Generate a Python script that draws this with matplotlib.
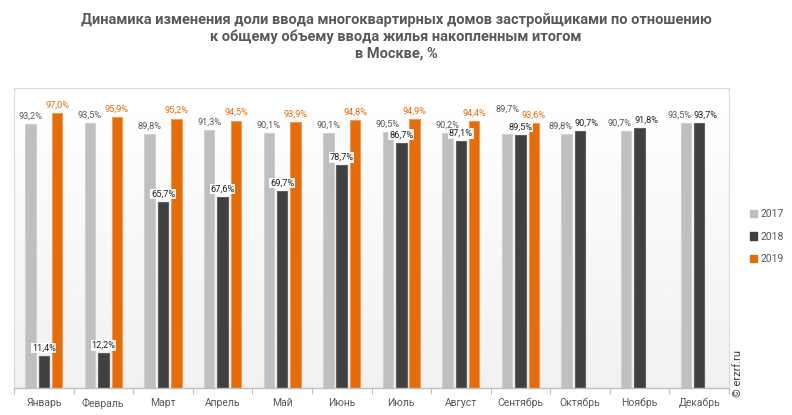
import numpy as np
import matplotlib.pyplot as plt
from matplotlib.patches import Patch

months = ['Январь', 'Февраль', 'Март', 'Апрель', 'Май', 'Июнь', 'Июль',
          'Август', 'Сентябрь', 'Октябрь', 'Ноябрь', 'Декабрь']
v2017 = [93.2, 93.5, 89.8, 91.3, 90.1, 90.1, 90.5, 90.2, 89.7, 89.8, 90.7, 93.5]
v2018 = [11.4, 12.2, 65.7, 67.6, 69.7, 78.7, 86.7, 87.1, 89.5, 90.7, 91.8, 93.7]
v2019 = [97.0, 95.9, 95.2, 94.5, 93.9, 94.8, 94.9, 94.4, 93.6]

plt.rcParams['font.family'] = ['Roboto', 'DejaVu Sans']

fig = plt.figure(figsize=(7.92, 4.15), dpi=100)
ax = fig.add_axes([14 / 792, 27 / 415, 715 / 792, 300 / 415])

# background gradient white -> light grey
grad = np.linspace(1.0, 0.945, 256).reshape(-1, 1)
ax.imshow(grad, cmap='gray', vmin=0, vmax=1, aspect='auto',
          extent=[-0.5, 11.5, 0, 106], zorder=0)

x = np.arange(12)
w = 0.175
off = 0.225
series = [
    ('2017', v2017, -off, '#BFBFBF', '#D0D0D0', '#595959'),
    ('2018', v2018, 0, '#404040', '#606060', '#222222'),
    ('2019', v2019, off, '#E46C0A', '#F09A55', '#E46C0A'),
]


def label_shift(year, i):
    # nudge crowded labels apart like in the original
    dx, dy = 0.0, 0.0
    if year == '2017' and i == 8:
        dy = 6
    if i >= 9:
        dx = -0.11 if year == '2017' else 0.11
    return dx, dy


for year, vals, dx, col, ecol, tcol in series:
    xs = x[:len(vals)] + dx
    ax.bar(xs, vals, width=w, color=col, edgecolor=ecol, linewidth=0.8, zorder=2)
    for i, (xi, v) in enumerate(zip(xs, vals)):
        lbl = f'{v:.1f}%'.replace('.', ',')
        sx, sy = label_shift(year, i)
        kw = {}
        if year == '2018':
            kw['bbox'] = dict(boxstyle='square,pad=0.08', fc='white', ec='none', alpha=0.9)
        ax.text(xi + sx, v + 1.2 + sy, lbl, ha='center', va='bottom', fontsize=6.6,
                color=tcol, zorder=4 if year == '2018' else 5, **kw)

ax.set_xlim(-0.5, 11.5)
ax.set_ylim(0, 106)
ax.set_yticks([])
ax.set_xticks(x)
ax.set_xticklabels(months, fontsize=7.5, color='#595959')
ax.tick_params(axis='x', length=0, pad=7)
ax.set_xticks(np.arange(-0.5, 12, 1), minor=True)
ax.tick_params(axis='x', which='minor', length=4, color='#BFBFBF', width=0.8)
for s in ['top', 'left', 'right']:
    ax.spines[s].set_color('#D9D9D9')
    ax.spines[s].set_linewidth(0.8)
ax.spines['bottom'].set_color('#BFBFBF')
ax.spines['bottom'].set_linewidth(1)

fig.text(0.5, 0.968, 'Динамика изменения доли ввода многоквартирных домов застройщиками по отношению\n'
         'к общему объему ввода жилья накопленным итогом\nв Москве, %',
         ha='center', va='top', fontsize=10.5, fontweight='bold', color='#595959',
         linespacing=1.2)

handles = [Patch(color='#BFBFBF'), Patch(color='#404040'), Patch(color='#E46C0A')]
fig.legend(handles, ['2017', '2018', '2019'], loc='center left',
           bbox_to_anchor=(0.935, 0.43), frameon=False, fontsize=7.5,
           labelcolor='#595959', handlelength=0.7, handleheight=0.7,
           handletextpad=0.3, labelspacing=1.2)

fig.text(0.932, 0.1, '© erzrf.ru', rotation=90, ha='center', va='center',
         fontsize=8, color='#404040')

fig.savefig('out.png', dpi=100)
